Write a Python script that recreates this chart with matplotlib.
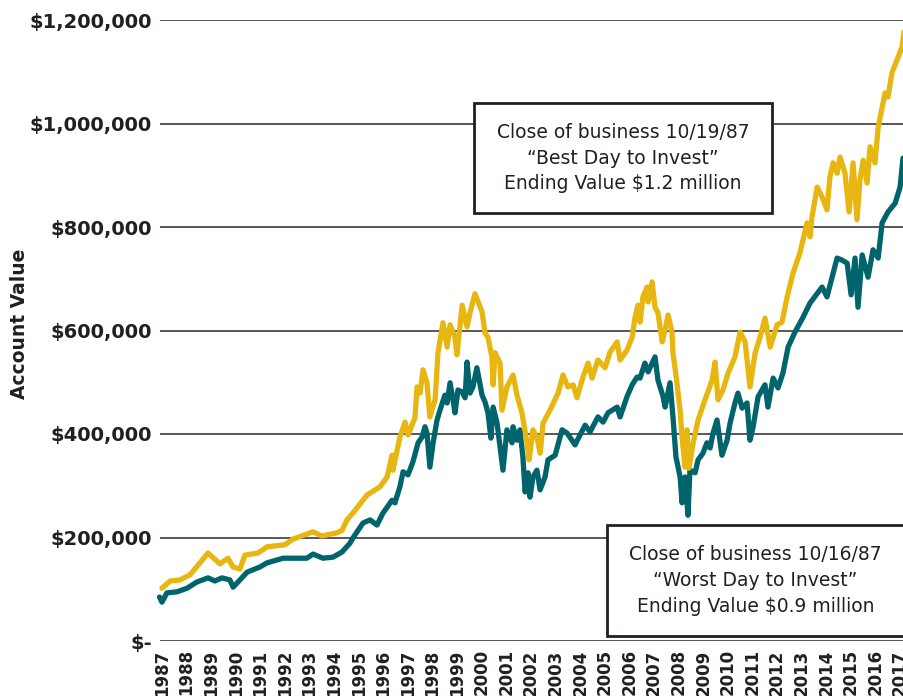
import matplotlib.pyplot as plt
from matplotlib.patches import Rectangle

## Data (decimal year, account value in $ thousands)
best_year = [1987.0, 1987.33, 1987.73, 1988.14, 1988.54, 1988.87, 1989.36, 1989.68, 1989.89, 1990.17,
             1990.37, 1990.9, 1991.27, 1992.0, 1992.33, 1993.14, 1993.5, 1994.11, 1994.32, 1994.52,
             1994.76, 1995.33, 1995.86, 1996.15, 1996.35, 1996.39, 1996.67, 1996.88, 1997.0, 1997.28,
             1997.37, 1997.49, 1997.61, 1997.77, 1997.89, 1998.1, 1998.22, 1998.42, 1998.59, 1998.71,
             1998.91, 1998.99, 1999.2, 1999.4, 1999.52, 1999.72, 2000.01, 2000.13, 2000.25, 2000.41,
             2000.46, 2000.54, 2000.74, 2000.82, 2001.02, 2001.27, 2001.43, 2001.63, 2001.84, 2001.92,
             2002.08, 2002.24, 2002.37, 2002.49, 2002.77, 2003.1, 2003.3, 2003.5, 2003.71, 2003.87,
             2004.11, 2004.32, 2004.48, 2004.72, 2005.01, 2005.21, 2005.5, 2005.62, 2005.9, 2006.11,
             2006.23, 2006.35, 2006.43, 2006.55, 2006.72, 2006.76, 2006.92, 2007.04, 2007.16, 2007.33,
             2007.45, 2007.57, 2007.73, 2007.77, 2007.93, 2008.06, 2008.14, 2008.26, 2008.34, 2008.42,
             2008.59, 2008.79, 2009.07, 2009.36, 2009.48, 2009.6, 2009.8, 2010.01, 2010.29, 2010.5,
             2010.7, 2010.9, 2011.11, 2011.31, 2011.51, 2011.72, 2012.0, 2012.2, 2012.41, 2012.65,
             2012.93, 2013.22, 2013.34, 2013.42, 2013.63, 2013.83, 2014.03, 2014.15, 2014.28, 2014.44,
             2014.56, 2014.76, 2014.93, 2015.09, 2015.25, 2015.37, 2015.5, 2015.66, 2015.78, 2015.98,
             2016.11, 2016.39, 2016.51, 2016.67, 2016.88, 2017.08, 2017.16]
best_value = [102, 116, 118, 128, 151, 170, 149, 160, 143, 139,
              166, 170, 182, 186, 197, 211, 203, 209, 214, 234,
              247, 282, 298, 317, 359, 330, 394, 423, 398, 431,
              491, 479, 524, 499, 433, 466, 557, 615, 568, 611,
              587, 553, 649, 607, 634, 671, 636, 595, 587, 549,
              495, 557, 537, 446, 491, 514, 475, 441, 383, 350,
              408, 394, 363, 421, 446, 479, 514, 491, 495, 470,
              510, 537, 508, 543, 528, 558, 578, 543, 562, 587,
              626, 649, 616, 665, 684, 655, 694, 645, 634, 578,
              601, 630, 597, 557, 499, 446, 394, 336, 408, 334,
              383, 427, 466, 504, 539, 466, 485, 518, 549, 597,
              578, 491, 557, 587, 624, 568, 611, 616, 665, 711,
              750, 808, 781, 819, 877, 858, 833, 897, 924, 904,
              935, 904, 829, 924, 814, 891, 929, 885, 955, 924,
              993, 1059, 1051, 1098, 1123, 1148, 1177]

worst_year = [1986.9, 1987.0, 1987.2, 1987.61, 1988.02, 1988.42, 1988.87, 1989.15, 1989.44, 1989.76,
              1989.89, 1990.17, 1990.46, 1990.98, 1991.27, 1991.92, 1992.49, 1992.89, 1993.14, 1993.54,
              1993.95, 1994.32, 1994.64, 1994.76, 1995.17, 1995.46, 1995.74, 1995.98, 1996.35, 1996.47,
              1996.67, 1996.8, 1997.0, 1997.2, 1997.41, 1997.57, 1997.69, 1997.77, 1997.89, 1998.02,
              1998.18, 1998.3, 1998.5, 1998.59, 1998.71, 1998.83, 1998.91, 1999.03, 1999.2, 1999.32,
              1999.4, 1999.52, 1999.64, 1999.8, 2000.01, 2000.13, 2000.25, 2000.37, 2000.46, 2000.62,
              2000.86, 2001.02, 2001.23, 2001.27, 2001.43, 2001.55, 2001.67, 2001.76, 2001.88, 2001.96,
              2002.08, 2002.24, 2002.37, 2002.57, 2002.69, 2002.98, 2003.26, 2003.46, 2003.79, 2003.99,
              2004.2, 2004.4, 2004.72, 2004.93, 2005.13, 2005.5, 2005.62, 2005.9, 2006.11, 2006.31,
              2006.43, 2006.63, 2006.76, 2007.04, 2007.16, 2007.37, 2007.45, 2007.65, 2007.77, 2007.89,
              2008.06, 2008.14, 2008.26, 2008.38, 2008.46, 2008.67, 2008.79, 2008.99, 2009.15, 2009.28,
              2009.4, 2009.56, 2009.76, 2009.97, 2010.09, 2010.29, 2010.41, 2010.58, 2010.78, 2010.9,
              2011.02, 2011.23, 2011.51, 2011.63, 2011.84, 2012.04, 2012.24, 2012.45, 2012.73, 2013.06,
              2013.34, 2013.83, 2014.03, 2014.44, 2014.64, 2014.85, 2015.01, 2015.17, 2015.29, 2015.46,
              2015.7, 2015.9, 2016.11, 2016.27, 2016.51, 2016.8, 2017.0, 2017.12]
worst_value = [85, 75, 93, 95, 102, 114, 122, 116, 122, 118,
               104, 118, 133, 143, 151, 160, 160, 160, 168, 160,
               162, 172, 189, 199, 228, 234, 224, 247, 272, 267,
               298, 327, 321, 346, 383, 394, 414, 402, 336, 383,
               427, 446, 475, 460, 499, 466, 441, 485, 481, 470,
               539, 479, 491, 528, 475, 462, 441, 392, 452, 421,
               330, 408, 383, 414, 388, 408, 356, 288, 325, 278,
               317, 330, 292, 317, 350, 359, 408, 402, 379, 398,
               417, 404, 433, 423, 441, 452, 433, 472, 495, 510,
               508, 537, 520, 549, 504, 472, 452, 499, 433, 356,
               317, 267, 317, 243, 330, 325, 350, 363, 383, 373,
               402, 427, 359, 388, 421, 460, 479, 450, 460, 388,
               412, 472, 495, 452, 508, 489, 518, 568, 597, 626,
               653, 684, 665, 740, 736, 730, 669, 740, 645, 746,
               703, 756, 740, 808, 829, 846, 877, 933]

years = list(range(1987, 2018))
y_ticks = [0, 200000, 400000, 600000, 800000, 1000000, 1200000]
y_labels = ['$-', '$200,000', '$400,000', '$600,000', '$800,000', '$1,000,000', '$1,200,000']

gold = '#E8B610'
teal = '#00646D'

fig = plt.figure(figsize=(9.04, 6.96), dpi=100)
ax = fig.add_axes([160/904, 55/696, 744/904, 621/696])

for v in y_ticks:
    ax.axhline(v, color='#4a4a4a', lw=1.3, zorder=1)

ax.plot(worst_year, [v*1000 for v in worst_value], color=teal, lw=3.8,
        solid_joinstyle='round', solid_capstyle='round', zorder=3, clip_on=False)
ax.plot(best_year, [v*1000 for v in best_value], color=gold, lw=3.8,
        solid_joinstyle='round', solid_capstyle='round', zorder=4, clip_on=False)

ax.set_xlim(1986.92, 2017.16)
ax.set_ylim(0, 1200000)
ax.set_yticks(y_ticks)
ax.set_yticklabels(y_labels, fontsize=14, fontweight='bold', color='#231f20')
ax.set_xticks(years)
ax.set_xticklabels([str(y) for y in years], rotation=90, fontsize=12,
                   fontweight='bold', color='#231f20', va='top')
ax.tick_params(axis='both', length=0)
ax.tick_params(axis='y', pad=6)
ax.tick_params(axis='x', pad=6)
for s in ax.spines.values():
    s.set_visible(False)

ax.set_ylabel('Account Value', fontsize=13.5, fontweight='bold', color='#231f20')
ax.yaxis.set_label_coords(-0.176, 0.51)

# annotation boxes (figure pixel positions)
def note(x0, y0, x1, y1, lines):
    r = Rectangle((x0/904, 1 - y1/696), (x1-x0)/904, (y1-y0)/696,
                  transform=fig.transFigure, facecolor='white', edgecolor='#231f20',
                  lw=2, zorder=10)
    fig.patches.append(r)
    cx = (x0 + min(x1, 904)) / 2 / 904
    cy = 1 - (y0 + y1) / 2 / 696
    fig.text(cx, cy, '\n'.join(lines), ha='center', va='center', fontsize=13.5,
             color='#231f20', linespacing=1.45, zorder=11)

note(474, 103, 772, 213, ['Close of business 10/19/87', '\u201cBest Day to Invest\u201d',
                          'Ending Value $1.2 million'])
note(607, 525, 912, 636, ['Close of business 10/16/87', '\u201cWorst Day to Invest\u201d',
                          'Ending Value $0.9 million'])

fig.savefig('out.png', dpi=100)
